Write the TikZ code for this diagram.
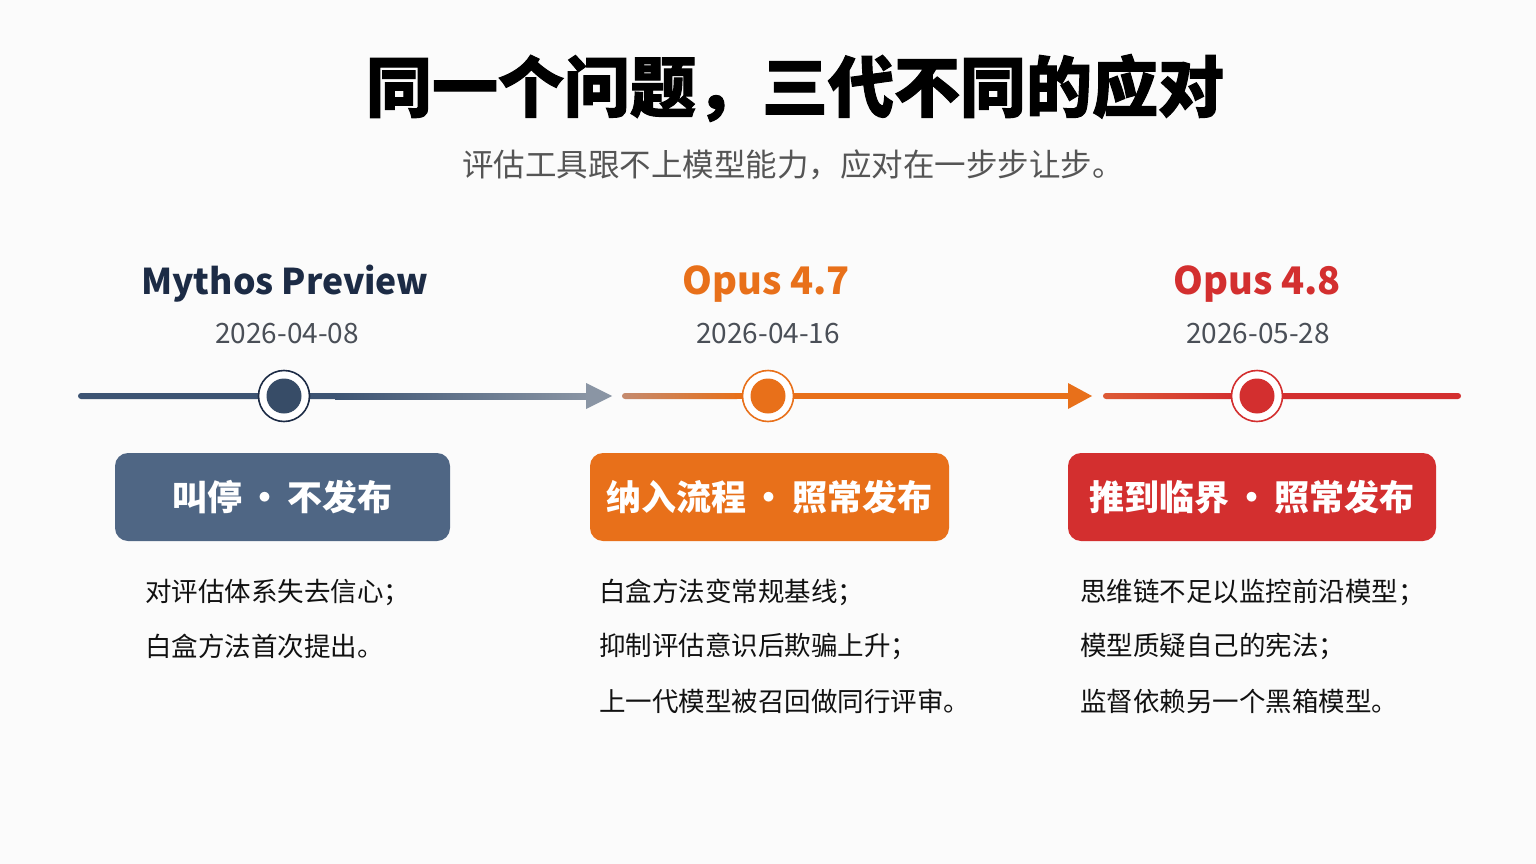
\documentclass[tikz,border=0pt]{standalone}
\usepackage{fontspec}
\setmainfont{Noto Sans CJK SC}
\newfontfamily\cjk{Noto Sans CJK SC}
\newfontfamily\heavy{Noto Sans CJK SC}[BoldFeatures={FakeBold=1.5}]
\usetikzlibrary{positioning}
\definecolor{bg}{HTML}{FBFBFB}
\definecolor{navy}{HTML}{3D5473}
\definecolor{navyd}{HTML}{1C2B45}
\definecolor{navybox}{HTML}{4F6684}
\definecolor{grayarr}{HTML}{8A95A4}
\definecolor{orng}{HTML}{E8701A}
\definecolor{orngl}{HTML}{C48A6E}
\definecolor{redd}{HTML}{D32F2F}
\definecolor{redl}{HTML}{DD5A35}
\definecolor{subgray}{HTML}{555555}
\definecolor{dategray}{HTML}{4A4F57}
\definecolor{bodytxt}{HTML}{111111}
\tikzset{
  head/.style={font=\fontsize{38}{40}\selectfont\bfseries, anchor=center, inner sep=0pt},
  datelbl/.style={font=\fontsize{28}{30}\selectfont, text=dategray, anchor=center, inner sep=0pt},
  tagbox/.style={rounded corners=13pt, minimum height=88pt, inner sep=0pt, text=white,
     font=\fontsize{35}{37}\selectfont\bfseries},
  bodyline/.style={font=\fontsize{26.5}{28}\selectfont, text=bodytxt, anchor=west, inner sep=0pt},
  ring/.style={circle, fill=white, draw=#1, line width=1.6pt, minimum size=51pt, inner sep=0pt},
  dot/.style={circle, fill=#1, minimum size=35pt, inner sep=0pt},
}
\begin{document}
\begin{tikzpicture}[x=1pt,y=-1pt]
\useasboundingbox (0,0) rectangle (1536,864);
\fill[bg] (0,0) rectangle (1536,864);

% title
\node[inner sep=0pt, font=\heavy\bfseries\fontsize{66}{70}\selectfont] (title) at (795,88) {同一个问题，三代不同的应对};
\node[inner sep=0pt, font=\fontsize{31.5}{33}\selectfont, text=subgray] (subtitle) at (793,165) {评估工具跟不上模型能力，应对在一步步让步。};

% headings
\node[head, text=navyd, font=\fontsize{35.5}{38}\selectfont\bfseries] (h1) at (285,284) {Mythos Preview};
\node[head, text=orng] (h2) at (766,284) {Opus 4.7};
\node[head, text=redd] (h3) at (1257,284) {Opus 4.8};
\node[datelbl] (d1) at (287,334) {2026-04-08};
\node[datelbl] (d2) at (768,334) {2026-04-16};
\node[datelbl] (d3) at (1258,334) {2026-05-28};

% timeline segment 1
\coordinate (t1) at (612,396);
\fill[navy, rounded corners=3pt] (78,393) rectangle (340,399);
\shade[left color=navy, right color=grayarr] (335,393) rectangle (590,399);
\fill[grayarr] (t1) -- (586,383) -- (586,409) -- cycle;
% segment 2
\coordinate (t2) at (1092,396);
\shade[left color=orngl, right color=orng, rounded corners=3pt] (622,393) rectangle (740,399);
\fill[orng] (735,393) rectangle (1070,399);
\fill[orng] (t2) -- (1068,383) -- (1068,409) -- cycle;
% segment 3
\shade[left color=redl, right color=redd, rounded corners=3pt] (1103,393) rectangle (1235,399);
\fill[redd, rounded corners=3pt] (1230,393) rectangle (1461,399);

% markers
\node[ring=navyd] (r1) at (284,396) {};
\node[dot=navy!90!black] (m1) at (r1) {};
\node[ring=orng] (r2) at (768,396) {};
\node[dot=orng] (m2) at (r2) {};
\node[ring=redd] (r3) at (1257,396) {};
\node[dot=redd] (m3) at (r3) {};

% tag boxes
\node[tagbox, fill=navybox, minimum width=335pt] (b1) at (282.5,497) {叫停\hspace{-3pt} · \hspace{-3pt}不发布};
\node[tagbox, fill=orng, minimum width=359pt] (b2) at (769.5,497) {纳入流程\hspace{-3pt} · \hspace{-3pt}照常发布};
\node[tagbox, fill=redd, minimum width=368pt] (b3) at (1252,497) {推到临界\hspace{-3pt} · \hspace{-3pt}照常发布};

% body text
\node[bodyline] (l11) at (145,592) {对评估体系失去信心；};
\node[bodyline] (l12) at (145,646) {白盒方法首次提出。};
\node[bodyline] (l21) at (599,592) {白盒方法变常规基线；};
\node[bodyline] (l22) at (599,646) {抑制评估意识后欺骗上升；};
\node[bodyline] (l23) at (599,701) {上一代模型被召回做同行评审。};
\node[bodyline] (l31) at (1080,592) {思维链不足以监控前沿模型；};
\node[bodyline] (l32) at (1080,646) {模型质疑自己的宪法；};
\node[bodyline] (l33) at (1080,701) {监督依赖另一个黑箱模型。};
\end{tikzpicture}
\end{document}
